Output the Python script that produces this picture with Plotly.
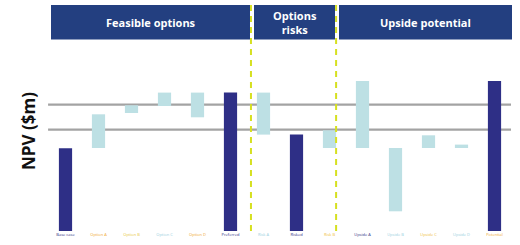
import plotly.graph_objects as go

# Categories (tick labels are illegible in the reference; placeholders)
categories = ["Base case", "Option A", "Option B", "Option C", "Option D", "Preferred",
              "Risk A", "Risked", "Risk B", "Upside A", "Upside B", "Upside C", "Upside D", "Potential"]
# NPV ranges (bottom, top)
low_vals  = [0, 83, 118, 125, 113.7, 0, 96.4, 0, 83, 83, 19.7, 83, 83, 0]
high_vals = [82.7, 116.7, 125.7, 138.4, 138.4, 138.4, 138.4, 96.4, 100.7, 150, 83, 95.7, 86.4, 150]
is_total  = [True, False, False, False, False, True, False, True, False, False, False, False, False, True]
ref_lines = [126.4, 101.4]
label_colors = ["#2d2e83", "#f0a830", "#e8c840", "#9acfe0", "#f0a830", "#2d2e83", "#9acfe0",
                "#2d2e83", "#f0c040", "#2d2e83", "#9acfe0", "#f0c040", "#9acfe0", "#f0a830"]
sections = ["Feasible options", "Options<br>risks", "Upside potential"]

DARK = "#2e2f86"
LIGHT = "#bde0e4"
HEAD = "#233f80"

fig = go.Figure()
fig.add_trace(go.Bar(
    x=categories,
    y=[h - l for l, h in zip(low_vals, high_vals)],
    base=low_vals,
    marker=dict(color=[DARK if t else LIGHT for t in is_total], line=dict(width=0)),
    hoverinfo="skip",
))

shapes = []
for v in ref_lines:
    shapes.append(dict(type="line", xref="paper", yref="y", x0=-0.002, x1=1, y0=v, y1=v,
                       line=dict(color="#a3a3a3", width=2.2), layer="below"))
for xv in [5.62, 8.20]:
    shapes.append(dict(type="line", xref="x", yref="paper", x0=xv, x1=xv, y0=0, y1=1,
                       line=dict(color="#d6e020", width=2, dash="6px,5px"), layer="above"))

W = 462.0
def px(x):
    return (x - 49) / W
heads = [(51, 250), (254, 335), (339, 512)]
annotations = []
for (a, b), s in zip(heads, sections):
    shapes.append(dict(type="rect", xref="paper", yref="paper", x0=px(a), x1=px(b),
                       y0=(231 - 39.5) / 226.0, y1=1.0, fillcolor=HEAD, line=dict(width=0), layer="above"))
    annotations.append(dict(xref="paper", yref="paper", x=(px(a) + px(b)) / 2, y=(231 - 22) / 226.0,
                            text="<b>" + s + "</b>", showarrow=False, xanchor="center", yanchor="middle",
                            font=dict(family="Open Sans", size=11, color="white")))

annotations.append(dict(xref="paper", yref="paper", x=(28 - 49) / W, y=(231 - 131) / 226.0,
                        text="<b>NPV ($m)</b>", textangle=-90, showarrow=False,
                        xanchor="center", yanchor="middle",
                        font=dict(family="Open Sans", size=17, color="#111111")))

ticktext = ["<span style='color:%s'>%s</span>" % (c, t) for c, t in zip(label_colors, categories)]

fig.update_layout(
    width=520, height=245,
    margin=dict(l=49, r=9, t=5, b=14),
    paper_bgcolor="white", plot_bgcolor="white",
    showlegend=False,
    bargap=0.6,
    shapes=shapes,
    annotations=annotations,
    xaxis=dict(tickmode="array", tickvals=categories, ticktext=ticktext,
               tickfont=dict(size=4, family="Open Sans"), showline=False, ticks="",
               showgrid=False, zeroline=False, range=[-0.5, 13.5], fixedrange=True),
    yaxis=dict(range=[0, 226], showticklabels=False, showgrid=False, zeroline=False,
               showline=False, ticks="", fixedrange=True),
)

fig.write_html("out.html", config={"displayModeBar": False},
               post_script="document.body.style.margin='0';document.body.style.overflow='hidden';")
